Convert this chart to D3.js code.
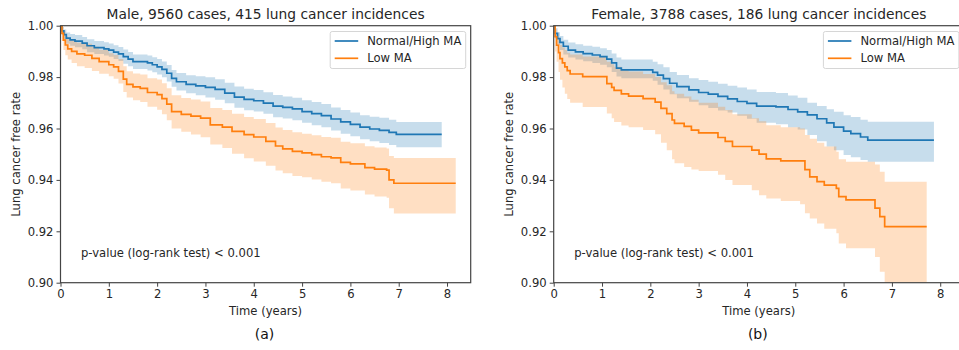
<!DOCTYPE html>
<html><head><meta charset="utf-8">
<script src="https://cdn.jsdelivr.net/npm/d3@7"></script>
<style>
html,body{margin:0;padding:0;background:#fff;}
svg{display:block;font-family:"DejaVu Sans",sans-serif;}
</style></head>
<body><svg id="chart" width="959" height="350"></svg>
<script>
// ---------- data ----------
const timeTicks = [0, 1, 2, 3, 4, 5, 6, 7, 8];
const rateTicks = [0.90, 0.92, 0.94, 0.96, 0.98, 1.00];
const seriesNames = ["Normal/High MA", "Low MA"];
const panelTitles = ["Male, 9560 cases, 415 lung cancer incidences", "Female, 3788 cases, 186 lung cancer incidences"];
const panelTags = ["(a)", "(b)"];
const pValueText = "p-value (log-rank test) < 0.001";

// Male, Normal/High MA
const maleNormalT  = [0,0.03,0.07,0.12,0.2,0.3,0.45,0.55,0.7,0.9,1.0,1.1,1.2,1.3,1.4,1.5,1.8,1.9,2.0,2.1,2.2,2.3,2.4,2.6,2.8,3.0,3.2,3.4,3.6,3.8,4.0,4.2,4.4,4.6,4.8,5.0,5.2,5.4,5.6,5.8,6.0,6.2,6.4,6.6,6.8,6.95];
const maleNormalS  = [1.0,0.998,0.9965,0.9952,0.9945,0.9940,0.9932,0.9922,0.9915,0.9910,0.9905,0.9897,0.9890,0.9880,0.9870,0.9860,0.9855,0.9848,0.9840,0.9830,0.9815,0.9795,0.9782,0.9772,0.9766,0.9760,0.9752,0.9738,0.9722,0.9713,0.9708,0.9699,0.9687,0.9682,0.9676,0.9666,0.9658,0.9650,0.9637,0.9626,0.9616,0.9605,0.9598,0.9593,0.9585,0.9577];
const maleNormalHi = [1.0,0.9995,0.9985,0.9974,0.9968,0.9964,0.9956,0.9947,0.9940,0.9936,0.9931,0.9924,0.9917,0.9907,0.9898,0.9888,0.9884,0.9877,0.9870,0.9861,0.9847,0.9828,0.9816,0.9807,0.9803,0.9799,0.9792,0.9778,0.9763,0.9755,0.9750,0.9741,0.9730,0.9725,0.9720,0.9710,0.9703,0.9695,0.9682,0.9672,0.9662,0.9652,0.9646,0.9642,0.9634,0.9625];
const maleNormalLo = [1.0,0.9965,0.9945,0.9930,0.9922,0.9916,0.9908,0.9897,0.9890,0.9884,0.9879,0.9870,0.9863,0.9852,0.9842,0.9832,0.9826,0.9819,0.9810,0.9799,0.9783,0.9762,0.9748,0.9737,0.9729,0.9721,0.9712,0.9698,0.9681,0.9671,0.9666,0.9657,0.9644,0.9639,0.9632,0.9622,0.9613,0.9605,0.9592,0.9580,0.9570,0.9558,0.9550,0.9544,0.9536,0.9527];
const maleNormalEnd = 7.89;

// Male, Low MA
const maleLowT  = [0,0.03,0.06,0.1,0.15,0.23,0.34,0.5,0.65,0.8,1.0,1.1,1.2,1.3,1.37,1.5,1.65,1.8,2.0,2.1,2.2,2.3,2.5,2.7,2.9,3.1,3.35,3.55,3.8,4.0,4.25,4.45,4.6,4.8,5.0,5.2,5.4,5.6,5.8,6.0,6.3,6.5,6.75,6.8,6.9];
const maleLowS  = [1.0,0.9970,0.9944,0.9925,0.9910,0.9900,0.9890,0.9885,0.9873,0.9860,0.9848,0.9840,0.9822,0.9792,0.9772,0.9762,0.9756,0.9740,0.9732,0.9716,0.9695,0.9666,0.9655,0.9648,0.9640,0.9614,0.9605,0.9589,0.9576,0.9567,0.9550,0.9532,0.9521,0.9511,0.9505,0.9498,0.9490,0.9486,0.9468,0.9462,0.9448,0.9442,0.9438,0.9400,0.9387];
const maleLowHi = [1.0,0.9995,0.9980,0.9960,0.9948,0.9942,0.9934,0.9930,0.9918,0.9905,0.9893,0.9886,0.9870,0.9842,0.9823,0.9814,0.9810,0.9796,0.9791,0.9776,0.9757,0.9729,0.9719,0.9713,0.9705,0.9680,0.9672,0.9657,0.9645,0.9637,0.9621,0.9604,0.9594,0.9585,0.9580,0.9574,0.9567,0.9564,0.9548,0.9543,0.9531,0.9526,0.9522,0.9493,0.9485];
const maleLowLo = [1.0,0.9940,0.9905,0.9885,0.9868,0.9855,0.9842,0.9835,0.9824,0.9813,0.9803,0.9794,0.9775,0.9742,0.9721,0.9710,0.9703,0.9685,0.9673,0.9655,0.9632,0.9600,0.9587,0.9577,0.9566,0.9538,0.9524,0.9502,0.9484,0.9472,0.9455,0.9437,0.9426,0.9415,0.9410,0.9402,0.9393,0.9387,0.9367,0.9359,0.9343,0.9335,0.9331,0.9290,0.9269];
const maleLowEnd = 8.18;

// Female, Normal/High MA
const femaleNormalT  = [0,0.03,0.08,0.13,0.2,0.3,0.45,0.61,0.8,0.96,1.1,1.2,1.3,1.4,2.05,2.15,2.27,2.4,2.55,2.8,3.0,3.2,3.4,3.6,3.8,4.0,4.2,4.6,4.85,5.05,5.25,5.45,5.65,5.8,6.0,6.15,6.35,6.5];
const femaleNormalS  = [1.0,0.9970,0.9950,0.9935,0.9920,0.9905,0.9898,0.9891,0.9886,0.9880,0.9870,0.9855,0.9835,0.9828,0.9818,0.9808,0.9794,0.9776,0.9763,0.9750,0.9740,0.9734,0.9725,0.9715,0.9705,0.9698,0.9687,0.9684,0.9674,0.9665,0.9653,0.9638,0.9622,0.9605,0.9590,0.9580,0.9567,0.9555];
const femaleNormalHi = [1.0,0.9990,0.9975,0.9960,0.9945,0.9935,0.9928,0.9922,0.9918,0.9912,0.9905,0.9892,0.9876,0.9868,0.9860,0.9850,0.9838,0.9820,0.9808,0.9796,0.9789,0.9782,0.9774,0.9766,0.9760,0.9752,0.9742,0.9738,0.9728,0.9720,0.9700,0.9688,0.9675,0.9665,0.9652,0.9645,0.9634,0.9626];
const femaleNormalLo = [1.0,0.9950,0.9925,0.9905,0.9888,0.9876,0.9868,0.9862,0.9855,0.9848,0.9838,0.9820,0.9802,0.9796,0.9786,0.9770,0.9752,0.9733,0.9718,0.9704,0.9690,0.9680,0.9670,0.9662,0.9650,0.9638,0.9622,0.9617,0.9605,0.9596,0.9575,0.9550,0.9530,0.9515,0.9497,0.9488,0.9477,0.9471];
const femaleNormalEnd = 7.87;

// Female, Low MA
const femaleLowT  = [0,0.03,0.06,0.1,0.13,0.18,0.23,0.28,0.34,0.6,1.1,1.2,1.25,1.4,1.55,1.85,2.1,2.22,2.34,2.45,2.5,2.7,2.85,3.0,3.4,3.55,3.7,4.1,4.25,4.4,4.7,5.1,5.2,5.3,5.45,5.6,5.85,5.9,6.05,6.65,6.75,6.85];
const femaleLowS  = [1.0,0.9957,0.9924,0.9895,0.9872,0.9855,0.9840,0.9825,0.9812,0.9802,0.9775,0.9760,0.9748,0.9735,0.9726,0.9716,0.9703,0.9678,0.9658,0.9633,0.9620,0.9608,0.9594,0.9583,0.9565,0.9550,0.9530,0.9516,0.9500,0.9482,0.9474,0.9474,0.9440,0.9412,0.9393,0.9380,0.9367,0.9335,0.9322,0.9290,0.9257,0.9218];
const femaleLowHi = [1.0,0.9985,0.9970,0.9945,0.9925,0.9915,0.9905,0.9895,0.9888,0.9880,0.9860,0.9850,0.9840,0.9830,0.9822,0.9812,0.9800,0.9780,0.9768,0.9745,0.9735,0.9725,0.9712,0.9700,0.9685,0.9672,0.9655,0.9640,0.9628,0.9613,0.9605,0.9600,0.9575,0.9560,0.9545,0.9530,0.9510,0.9480,0.9471,0.9460,0.9432,0.9393];
const femaleLowLo = [1.0,0.9900,0.9860,0.9820,0.9790,0.9760,0.9735,0.9715,0.9700,0.9684,0.9658,0.9640,0.9625,0.9612,0.9605,0.9594,0.9578,0.9545,0.9515,0.9480,0.9465,0.9450,0.9440,0.9435,0.9420,0.9400,0.9380,0.9360,0.9340,0.9328,0.9318,0.9305,0.9270,0.9250,0.9230,0.9210,0.9192,0.9153,0.9134,0.9100,0.9043,0.8990];
const femaleLowEnd = 7.72;

const colors = ["#1f77b4", "#ff7f0e"];

// ---------- build ----------
function series(T, S, Hi, Lo, end) {
  const pts = T.map((t, i) => ({t, s: S[i], hi: Hi[i], lo: Lo[i]}));
  const last = pts[pts.length - 1];
  pts.push({t: end, s: last.s, hi: last.hi, lo: last.lo});
  return pts;
}
const panels = [
  {title: panelTitles[0], tag: panelTags[0], left: 60.5,
   data: [series(maleNormalT, maleNormalS, maleNormalHi, maleNormalLo, maleNormalEnd),
          series(maleLowT, maleLowS, maleLowHi, maleLowLo, maleLowEnd)]},
  {title: panelTitles[1], tag: panelTags[1], left: 553.7,
   data: [series(femaleNormalT, femaleNormalS, femaleNormalHi, femaleNormalLo, femaleNormalEnd),
          series(femaleLowT, femaleLowS, femaleLowHi, femaleLowLo, femaleLowEnd)]}
];

const svg = d3.select("#chart");
const axW = 410.2, axTop = 25.7, axBottom = 282.7;
const textColor = "#262626";

panels.forEach((p, pi) => {
  const x = d3.scaleLinear().domain([0, 8.49]).range([p.left, p.left + axW]);
  const y = d3.scaleLinear().domain([0.90, 1.00]).range([axBottom, axTop]);
  const g = svg.append("g");
  const clipId = "clip" + pi;
  svg.append("clipPath").attr("id", clipId).append("rect")
    .attr("x", p.left).attr("y", axTop).attr("width", axW).attr("height", axBottom - axTop);

  const plot = g.append("g").attr("clip-path", `url(#${clipId})`);
  const area = d3.area().curve(d3.curveStepAfter).x(d => x(d.t)).y0(d => y(d.lo)).y1(d => y(d.hi));
  const line = d3.line().curve(d3.curveStepAfter).x(d => x(d.t)).y(d => y(d.s));
  p.data.forEach((d, i) => {
    plot.append("path").attr("d", area(d)).attr("fill", colors[i]).attr("fill-opacity", 0.25).attr("stroke", "none");
  });
  p.data.forEach((d, i) => {
    plot.append("path").attr("d", line(d)).attr("fill", "none").attr("stroke", colors[i]).attr("stroke-width", 1.7);
  });

  // axes
  const xAxis = d3.axisBottom(x).tickValues(timeTicks).tickFormat(d3.format("d")).tickSize(4).tickPadding(3);
  const yAxis = d3.axisLeft(y).tickValues(rateTicks).tickFormat(d3.format(".2f")).tickSize(4).tickPadding(3);
  const gx = g.append("g").attr("transform", `translate(0,${axBottom})`).call(xAxis);
  const gy = g.append("g").attr("transform", `translate(${p.left},0)`).call(yAxis);
  [gx, gy].forEach(a => {
    a.select(".domain").remove();
    a.selectAll(".tick line").attr("stroke", "#444").attr("stroke-width", 1);
    a.selectAll(".tick text").attr("fill", textColor).style("font-size", "11.6px").style("font-family", "DejaVu Sans");
  });
  // frame
  g.append("rect").attr("x", p.left).attr("y", axTop).attr("width", axW).attr("height", axBottom - axTop)
    .attr("fill", "none").attr("stroke", "#444").attr("stroke-width", 1.2);

  // title
  g.append("text").attr("x", p.left + axW / 2).attr("y", 19).attr("text-anchor", "middle")
    .attr("fill", textColor).style("font-size", "13.8px").text(p.title);
  // x label
  g.append("text").attr("x", p.left + axW / 2).attr("y", 315).attr("text-anchor", "middle")
    .attr("fill", textColor).style("font-size", "11.6px").text("Time (years)");
  // y label
  g.append("text").attr("transform", `translate(${p.left - 41},${(axTop + axBottom) / 2}) rotate(-90)`)
    .attr("text-anchor", "middle").attr("fill", textColor).style("font-size", "11.6px").text("Lung cancer free rate");
  // tag
  g.append("text").attr("x", p.left + axW / 2 - 1).attr("y", 339).attr("text-anchor", "middle")
    .attr("fill", "#111").style("font-size", "14px").text(p.tag);
  // p-value
  g.append("text").attr("x", p.left + 20.5).attr("y", 257).attr("fill", textColor)
    .style("font-size", "11.6px").text(pValueText);

  // legend
  const lx = p.left + axW - 140.5, ly = 31.5;
  const lg = g.append("g");
  lg.append("rect").attr("x", lx).attr("y", ly).attr("width", 135.5).attr("height", 37).attr("rx", 2)
    .attr("fill", "#fff").attr("fill-opacity", 0.85).attr("stroke", "#d6d6d6").attr("stroke-width", 1);
  seriesNames.forEach((n, i) => {
    const yy = ly + 9.5 + i * 17.3;
    lg.append("line").attr("x1", lx + 4.5).attr("x2", lx + 28).attr("y1", yy).attr("y2", yy)
      .attr("stroke", colors[i]).attr("stroke-width", 1.7);
    lg.append("text").attr("x", lx + 37).attr("y", yy + 4).attr("fill", textColor)
      .style("font-size", "11.6px").text(n);
  });
});
</script></body></html>
